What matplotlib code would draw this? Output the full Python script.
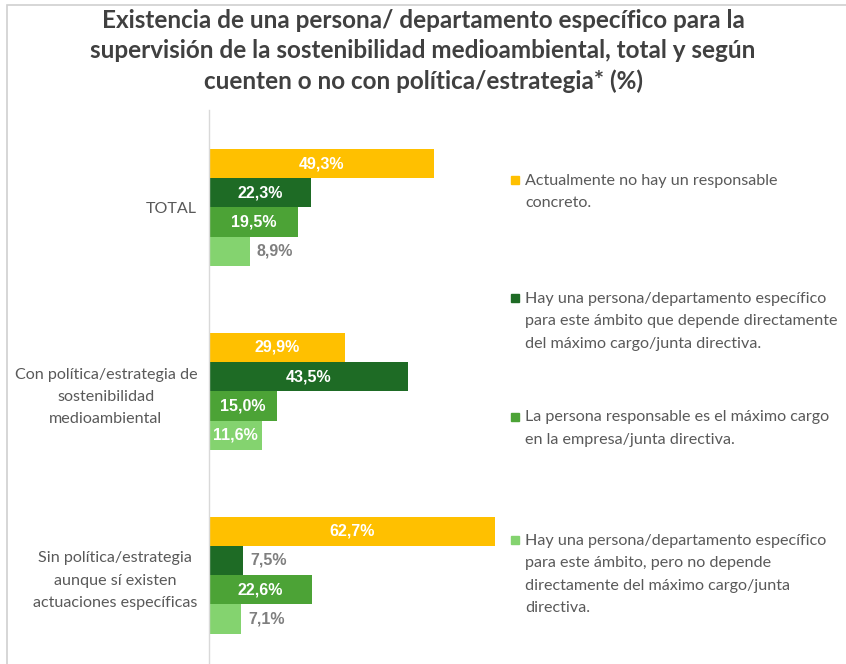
import numpy as np
import matplotlib
matplotlib.use("Agg")
import matplotlib.pyplot as plt
from matplotlib.patches import Rectangle

# Datos
grupos = ["TOTAL",
          "Con política/estrategia de\nsostenibilidad\nmedioambiental",
          "Sin política/estrategia\naunque sí existen\nactuaciones específicas"]

series = [
    "Actualmente no hay un responsable\nconcreto.",
    "Hay una persona/departamento específico\npara este ámbito que depende directamente\ndel máximo cargo/junta directiva.",
    "La persona responsable es el máximo cargo\nen la empresa/junta directiva.",
    "Hay una persona/departamento específico\npara este ámbito, pero no depende\ndirectamente del máximo cargo/junta\ndirectiva.",
]

no_responsable = [49.3, 29.9, 62.7]
depende_directo = [22.3, 43.5, 7.5]
maximo_cargo = [19.5, 15.0, 22.6]
no_depende = [8.9, 11.6, 7.1]

valores = [no_responsable, depende_directo, maximo_cargo, no_depende]
colores = ["#FFC000", "#1E6B25", "#4CA336", "#84D36F"]

GRIS = "#595959"
TXT = "Lato"
NUM = "Liberation Sans"

W, H = 846, 664
fig = plt.figure(figsize=(W / 100, H / 100), dpi=100)

# marco gris de la captura
fig.add_artist(Rectangle((7 / W, -0.01), 1.0, (H - 5) / H + 0.01,
                         transform=fig.transFigure, fill=False,
                         edgecolor="#D0D0D0", linewidth=1.2))

# Eje: de x=209 a x=510 px, de y=110 a y=664 px
ax = fig.add_axes([209 / W, 0, (510 - 209) / W, (H - 110) / H])
ax.set_xlim(0, (510 - 209) / 4.565)
ax.set_ylim(2 + (664 - 575) / 184, -(207.5 - 110) / 184)

h = 29.3 / 184
offs = (np.arange(4) - 1.5) * h
y = np.arange(len(grupos))

for i, (vals, col) in enumerate(zip(valores, colores)):
    bars = ax.barh(y + offs[i], vals, height=h, color=col, zorder=2)
    for b, v in zip(bars, vals):
        txt = f"{v:.1f}%".replace(".", ",")
        yc = b.get_y() + b.get_height() / 2
        if v >= 10:
            ax.text(v / 2, yc, txt, ha="center", va="center", color="white",
                    fontsize=11.5, fontweight="bold", family=NUM)
        else:
            ax.text(v + 1.5, yc, txt, ha="left", va="center", color="#7F7F7F",
                    fontsize=11.5, fontweight="bold", family=NUM)

ax.set_yticks(y)
ax.set_yticklabels(grupos, fontsize=11.6, color=GRIS, family=TXT,
                   ha="right", multialignment="center", linespacing=1.75)
ax.tick_params(axis="y", length=0, pad=8.5)
ax.set_xticks([])
for s in ["top", "right", "bottom"]:
    ax.spines[s].set_visible(False)
ax.spines["left"].set_color("#D9D9D9")
ax.spines["left"].set_linewidth(1.0)

# Leyenda manual
leg_y = [180, 298, 417, 540]
for lab, col, yy in zip(series, colores, leg_y):
    fig.add_artist(Rectangle((511 / W, 1 - (yy + 4) / H), 8 / W, 8 / H,
                             transform=fig.transFigure, color=col))
    fig.text(525 / W, 1 - (yy - 6.5) / H, lab, ha="left", va="top",
             fontsize=11.6, color=GRIS, family=TXT, linespacing=1.78)

fig.text(0.5, 1 - 9 / H,
         "Existencia de una persona/ departamento específico para la\n"
         "supervisión de la sostenibilidad medioambiental, total y según\n"
         "cuenten o no con política/estrategia* (%)",
         ha="center", va="top", fontsize=17.5, fontweight="bold",
         color="#404040", family=TXT, linespacing=1.38)

fig.savefig("out.png", dpi=100)
